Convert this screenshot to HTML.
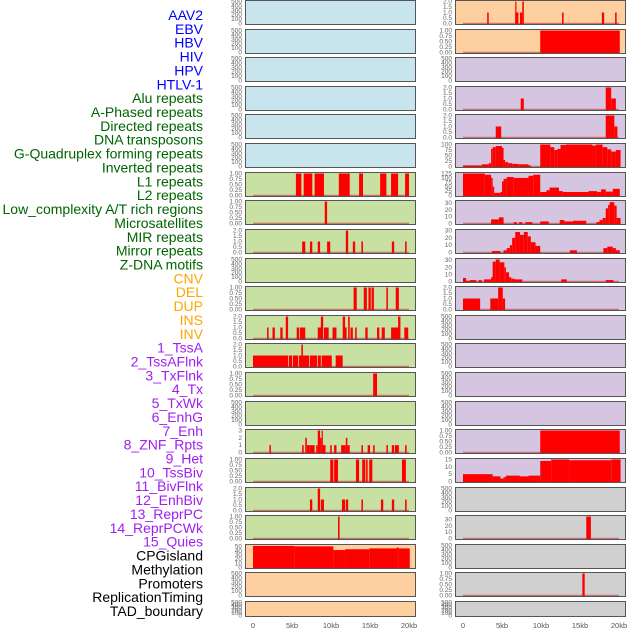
<!DOCTYPE html>
<html><head><meta charset="utf-8">
<style>
html,body{margin:0;padding:0;background:#fff;}
svg{display:block;font-family:"Liberation Sans",sans-serif;}
</style></head>
<body>
<svg id="chart" width="630" height="630" viewBox="0 0 630 630"></svg>
<script>
// ---- labels (column-major: left column 0..21, right column 22..43)
const trackLabels = ["AAV2","EBV","HBV","HIV","HPV","HTLV-1","Alu repeats","A-Phased repeats","Directed repeats","DNA transposons","G-Quadruplex forming repeats","Inverted repeats","L1 repeats","L2 repeats","Low_complexity A/T rich regions","Microsatellites","MIR repeats","Mirror repeats","Z-DNA motifs","CNV","DEL","DUP","INS","INV","1_TssA","2_TssAFlnk","3_TxFlnk","4_Tx","5_TxWk","6_EnhG","7_Enh","8_ZNF_Rpts","9_Het","10_TssBiv","11_BivFlnk","12_EnhBiv","13_ReprPC","14_ReprPCWk","15_Quies","CPGisland","Methylation","Promoters","ReplicationTiming","TAD_boundary"];
const labelColors = ["#0000ff","#0000ff","#0000ff","#0000ff","#0000ff","#0000ff","#006400","#006400","#006400","#006400","#006400","#006400","#006400","#006400","#006400","#006400","#006400","#006400","#006400","#ffa500","#ffa500","#ffa500","#ffa500","#ffa500","#a020f0","#a020f0","#a020f0","#a020f0","#a020f0","#a020f0","#a020f0","#a020f0","#a020f0","#a020f0","#a020f0","#a020f0","#a020f0","#a020f0","#a020f0","#000000","#000000","#000000","#000000","#000000"];
const xTickValues = [0,5,10,15,20];
const xTickLabels = ["0","5kb","10kb","15kb","20kb"];
const emptyTicks = [0,100,200,300,400,500];

// ---- bar data: [startKb, endKb, value]
const aluBars = [[5.5,6.2,1],[6.5,7.6,1],[7.9,9.1,1],[11.0,12.4,1],[13.6,14.1,1],[16.3,17.1,1],[17.7,18.6,1],[19.5,20.0,1]];
const aPhasedBars = [[9.2,9.5,1]];
const directedBars = [[6.3,6.7,1],[7.3,7.6,1],[8.3,8.6,1],[9.5,9.9,1],[11.9,12.2,2],[12.8,13.1,1],[13.9,14.1,1],[17.8,18.1,1],[19.5,19.7,1]];
const gQuadBars = [[12.9,13.3,1],[14.2,14.6,1],[14.8,15.1,1],[15.2,15.5,1],[17.1,17.3,1],[18.3,18.7,1]];
const invertedBars = [[1.8,2.0,1],[2.5,2.8,1],[3.5,3.8,1],[4.2,4.5,2],[5.6,5.9,1],[6.0,6.7,1],[8.3,8.8,1],[8.7,9.0,2],[9.1,9.7,1],[10.2,10.7,1],[11.5,11.8,2],[11.7,12.0,1],[12.2,12.4,2],[12.5,12.8,1],[13.1,13.3,1],[14.4,14.7,1],[15.9,16.2,1],[16.5,16.9,1],[17.7,18.7,1],[18.6,18.9,2],[19.4,19.9,1]];
const l1Bars = [[0,4.5,1],[4.6,5.0,1],[5.1,5.8,1],[5.9,7.2,1],[6.2,6.4,2],[7.3,8.2,1],[8.3,8.7,1],[8.8,10.1,1],[10.6,11.5,1]];
const l2Bars = [[15.4,15.9,1]];
const microBars = [[2.1,2.3,1],[6.3,6.5,1],[6.7,6.9,2],[6.9,7.2,1],[7.2,7.9,1],[8.1,8.3,1],[8.3,8.6,3],[8.6,8.8,2],[8.8,8.9,3],[8.9,9.3,1],[9.9,10.1,1],[10.4,10.7,1],[11.3,11.9,1],[11.9,12.1,2],[12.1,12.4,1],[13.9,14.1,1],[14.7,15.0,1],[15.4,15.6,1],[17.1,17.3,1],[17.8,18.1,1],[18.2,18.7,1],[19.5,19.7,1]];
const mirBars = [[9.9,10.3,1],[10.4,10.9,1],[13.2,13.6,1],[14.0,14.4,1],[14.5,14.7,1],[14.9,15.3,1],[19.1,19.6,1]];
const mirrorBars = [[7.3,7.6,1],[8.3,8.6,2],[8.7,9.1,1],[11.4,11.8,1],[11.9,12.2,1],[13.9,14.1,1],[16.4,16.7,1],[17.8,18.1,1],[19.5,19.7,1]];
const zdnaBars = [[10.9,11.1,1]];
const insBars = [[3.1,3.3,1],[6.7,7.1,1],[6.7,6.85,2],[7.3,7.6,1],[7.6,7.8,2],[12.7,12.9,1],[17.8,18.1,1],[19.5,19.7,1]];
const invBars = [[9.9,20.1,1]];
const tssAFlnkBars = [[7.4,7.8,1],[18.3,19.0,2],[19.0,19.6,1]];
const txFlnkBars = [[4.2,4.9,1],[18.3,19.4,2],[19.4,19.8,1]];
const txWkBars = [[0,2.4,5],[2.4,3.3,10],[3.3,3.6,15],[3.6,3.8,80],[3.8,4.2,88],[4.2,5.0,93],[5.0,5.2,85],[5.2,5.4,30],[5.4,5.8,20],[5.8,6.3,15],[6.3,7.1,12],[7.1,8.4,10],[8.4,8.7,5],[9.9,11.2,100],[11.2,11.7,88],[11.7,12.1,75],[12.1,12.5,80],[12.5,13.2,98],[13.2,16.6,100],[16.6,17.0,95],[17.0,17.9,100],[17.9,18.5,88],[18.5,19.0,78],[19.0,19.6,68],[19.6,20.2,75]];
const enhGBars = [[0,2.8,125],[2.8,3.6,118],[3.6,3.8,100],[3.8,4.0,50],[4.0,4.8,15],[4.8,5.0,20],[5.0,5.2,80],[5.2,5.6,95],[5.6,6.5,105],[6.5,8.4,100],[8.4,9.0,112],[9.0,9.9,118],[9.9,10.7,20],[10.7,11.1,30],[11.1,12.3,45],[12.3,12.8,25],[12.8,16.1,20],[16.1,17.2,25],[17.2,17.7,20],[17.7,18.3,35],[18.3,19.2,22],[19.2,20.1,38]];
const enhBars = [[3.6,4.6,6],[4.6,5.2,9],[6.5,6.9,2],[7.2,7.6,2],[8.0,8.9,2],[9.9,11.0,3],[12.4,13.0,5],[13.0,14.1,3],[14.1,15.8,4],[17.1,17.5,2],[17.5,17.9,5],[17.9,18.3,8],[18.3,18.6,22],[18.6,18.8,27],[18.8,19.4,31],[19.4,19.7,26],[19.7,20.2,8]];
const znfBars = [[3.7,4.8,2],[5.2,5.6,3],[5.6,6.0,6],[6.0,6.3,10],[6.3,6.7,20],[6.7,7.3,28],[7.3,7.8,24],[7.8,8.3,28],[8.3,8.7,22],[8.7,9.3,14],[9.3,9.9,9],[13.7,14.6,3],[18.0,18.5,6],[18.5,19.2,8],[19.2,19.6,6],[19.6,20.1,3]];
const hetBars = [[0,0.4,5],[0.4,0.9,1],[0.9,1.7,2],[2.0,2.4,2],[2.7,3.6,3],[3.6,3.8,6],[3.8,4.2,28],[4.2,4.7,31],[4.7,5.3,27],[5.3,5.5,20],[5.5,5.9,13],[5.9,6.2,6],[6.2,6.6,4],[6.6,7.6,3],[12.6,13.3,3],[18.3,19.3,2]];
const tssBivBars = [[0,2.2,1],[3.5,4.5,1],[4.5,5.1,2],[5.1,5.4,1]];
const reprPCBars = [[9.9,20.1,1]];
const reprPCWkBars = [[0,3.8,5],[3.8,4.8,3.5],[4.8,5.2,2],[5.2,5.5,3],[5.5,7.3,4],[7.3,8.4,3.5],[8.4,9.9,4],[9.9,11.3,14],[11.3,13.6,15],[13.6,19.0,14.5],[19.0,20.2,15]];
const cpgBars = [[0,5.3,52],[5.3,10.3,51],[10.3,11.8,42],[11.8,14.9,44],[14.9,18.4,46],[18.4,18.7,48],[18.7,20.1,46]];
const promoterBars = [[15.8,16.4,35]];
const replicationBars = [[15.3,15.6,1]];

// ---- tick sets
const ticksUnit = [0,0.25,0.5,0.75,1];
const ticksTwo = [0,0.5,1,1.5,2];
const ticksThree = [0,1,2,3];
const ticks100 = [0,25,50,75,100];
const ticks125 = [0,25,50,75,100,125];
const ticks30 = [0,10,20,30];
const ticks15 = [0,5,10,15];
const ticks50 = [0,10,20,30,40,50];

const BLUE="#c8e4ec", GREEN="#c8e0a2", ORANGE="#ffd09f", PURPLE="#d5c5e1", GRAY="#d0d0d0";
// panel specs [bars, ticks, tickFmt, bg, yMax]
const panels = [
 [null,emptyTicks,0,BLUE],[null,emptyTicks,0,BLUE],[null,emptyTicks,0,BLUE],[null,emptyTicks,0,BLUE],[null,emptyTicks,0,BLUE],[null,emptyTicks,0,BLUE],
 [aluBars,ticksUnit,2,GREEN],[aPhasedBars,ticksUnit,2,GREEN],[directedBars,ticksTwo,1,GREEN],[null,emptyTicks,0,GREEN],[gQuadBars,ticksUnit,2,GREEN],[invertedBars,ticksTwo,1,GREEN],[l1Bars,ticksTwo,1,GREEN],[l2Bars,ticksUnit,2,GREEN],[null,emptyTicks,0,GREEN],[microBars,ticksThree,0,GREEN],[mirBars,ticksUnit,2,GREEN],[mirrorBars,ticksTwo,1,GREEN],[zdnaBars,ticksUnit,2,GREEN],
 [cpgBars,ticks50,0,ORANGE,53],[null,emptyTicks,0,ORANGE],[null,emptyTicks,0,ORANGE],
 [insBars,ticksTwo,1,ORANGE],[invBars,ticksUnit,2,ORANGE],[null,emptyTicks,0,PURPLE],[tssAFlnkBars,ticksTwo,1,PURPLE],[txFlnkBars,ticksTwo,1,PURPLE],[txWkBars,ticks100,0,PURPLE],[enhGBars,ticks125,0,PURPLE],[enhBars,ticks30,0,PURPLE,32],[znfBars,ticks30,0,PURPLE],[hetBars,ticks30,0,PURPLE,31],[tssBivBars,ticksTwo,1,PURPLE],
 [null,emptyTicks,0,PURPLE],[null,emptyTicks,0,PURPLE],[null,emptyTicks,0,PURPLE],[null,emptyTicks,0,PURPLE],[reprPCBars,ticksUnit,2,PURPLE],[reprPCWkBars,ticks15,0,PURPLE],
 [null,emptyTicks,0,GRAY],[promoterBars,ticks30,0,GRAY,35],[null,emptyTicks,0,GRAY],[replicationBars,ticksUnit,2,GRAY],[null,emptyTicks,0,GRAY]
];
const panelNames = trackLabels.map(s=>s.toLowerCase().replace(/[^a-z0-9]+/g,'-'));

const svg = document.getElementById('chart');
const NS = "http://www.w3.org/2000/svg";
function mk(tag, attrs, parent){const e=document.createElementNS(NS,tag);for(const k in attrs)e.setAttribute(k,attrs[k]);(parent||svg).appendChild(e);return e;}

// labels
trackLabels.forEach((t,i)=>{
  const e = mk('text',{x:203,y:15+i*13.86+5,'text-anchor':'end','font-size':14,fill:labelColors[i]});
  e.textContent=t;
  
  
});

const cols = [{x0:245,x1:416,z:253},{x0:455,x1:626,z:463}];
const KB = 7.8;
panels.forEach((p,idx)=>{
  const col = idx<22?0:1, row = idx%22;
  const c = cols[col];
  const top = Math.round(row*28.62), h = row===21?16:25;
  const g = mk('g',{});
  
  
  mk('rect',{x:c.x0,y:top,width:c.x1-c.x0,height:h,fill:p[3]},g);
  const ticks = p[1], fmt=p[2];
  const yMax = p[4]||ticks[ticks.length-1];
  const y0 = top+h-1.5, yT = top+1.5;
  const ys = v => y0 - (v/yMax)*(y0-yT);
  ticks.forEach(v=>{
    const t = mk('text',{x:c.x0-3,y:ys(v)+2,'text-anchor':'end','font-size':6.5,fill:'#666'},g);
    t.textContent = v.toFixed(fmt);
    
    
  });
  if(p[0]){
    mk('line',{x1:c.z,x2:c.z+20*KB,y1:y0,y2:y0,stroke:'#c0504d','stroke-width':1.5,'stroke-opacity':0.7},g);
    p[0].forEach(b=>{
      const r = mk('rect',{x:c.z+b[0]*KB,y:ys(b[2]),width:Math.max(1.2,(b[1]-b[0])*KB),height:y0-ys(b[2])+0.5,fill:'#ff0000'},g);
      
      
    });
  }
  mk('rect',{x:c.x0+0.5,y:top+0.5,width:c.x1-c.x0-1,height:h-1,fill:'none',stroke:'#555','stroke-width':1},g);
});

// x axes
cols.forEach((c,ci)=>{
  xTickValues.forEach((v,i)=>{
    const t = mk('text',{x:c.z+v*KB,y:628,'text-anchor':'middle','font-size':7.5,fill:'#555'});
    t.textContent = xTickLabels[i];
    
    
  });
});
</script>
</body></html>
